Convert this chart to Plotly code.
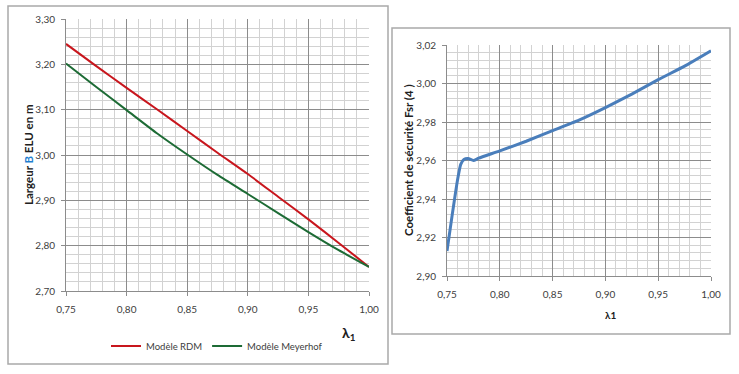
import plotly.graph_objects as go

# ---- Data ----
lam_left = [0.75, 0.775, 0.80, 0.825, 0.85, 0.875, 0.90, 0.925, 0.95, 0.975, 1.00]
b_rdm = [3.245, 3.196, 3.148, 3.101, 3.053, 3.005, 2.958, 2.908, 2.858, 2.806, 2.753]
b_meyerhof = [3.202, 3.150, 3.099, 3.048, 3.001, 2.956, 2.914, 2.872, 2.830, 2.790, 2.753]

lam_right = [0.75, 0.755, 0.76, 0.763, 0.766, 0.77, 0.775, 0.78, 0.80, 0.825, 0.85,
             0.875, 0.90, 0.925, 0.95, 0.975, 1.00]
fsr = [2.913, 2.932, 2.950, 2.958, 2.9605, 2.961, 2.960, 2.9612, 2.965, 2.970, 2.9755,
       2.981, 2.9875, 2.9945, 3.002, 3.009, 3.017]

x_ticks = [0.75, 0.80, 0.85, 0.90, 0.95, 1.00]

W, H = 739, 374
def px(x):
    return x / W
def py(y):
    return 1 - y / H

FONT = "Lato"
TICKCOL = "#404040"
MAJOR = "#8c8c8c"
MINOR = "#d2d2d2"

fig = go.Figure()
fig.add_trace(go.Scatter(x=lam_left, y=b_rdm, mode="lines", name="Modèle RDM",
                         line=dict(color="#c8161d", width=2, shape="spline", smoothing=0.6),
                         xaxis="x", yaxis="y"))
fig.add_trace(go.Scatter(x=lam_left, y=b_meyerhof, mode="lines", name="Modèle Meyerhof",
                         line=dict(color="#1d6b35", width=2, shape="spline", smoothing=0.6),
                         xaxis="x", yaxis="y"))
fig.add_trace(go.Scatter(x=lam_right, y=fsr, mode="lines", name="Fsr", showlegend=False,
                         line=dict(color="#4a7ebb", width=3, shape="spline", smoothing=0.5),
                         xaxis="x2", yaxis="y2"))

def xaxis(domain, anchor):
    return dict(domain=domain, anchor=anchor, range=[0.75, 1.0], tickvals=x_ticks,
                tickformat=".2f", showgrid=True, gridcolor=MAJOR, gridwidth=1, automargin=False,
                minor=dict(dtick=0.01, tick0=0.75, showgrid=True, gridcolor=MINOR, gridwidth=1),
                showline=True, linecolor=MAJOR, ticks="outside", ticklen=4, tickcolor=MAJOR,
                tickfont=dict(family=FONT, size=10, color=TICKCOL), zeroline=False, ticklabelstandoff=5)

def yaxis(domain, anchor, rng, dtick, mdtick):
    return dict(domain=domain, anchor=anchor, range=rng, dtick=dtick, tick0=rng[0],
                tickformat=".2f", showgrid=True, gridcolor=MAJOR, gridwidth=1, automargin=False,
                minor=dict(dtick=mdtick, tick0=rng[0], showgrid=True, gridcolor=MINOR, gridwidth=1),
                showline=True, linecolor=MAJOR, ticks="outside", ticklen=4, tickcolor=MAJOR,
                tickfont=dict(family=FONT, size=10, color=TICKCOL), zeroline=False, ticklabelstandoff=4)

fig.update_layout(
    width=W, height=H, margin=dict(l=0, r=0, t=0, b=0, autoexpand=False),
    paper_bgcolor="white", plot_bgcolor="white",
    separators=", ",
    xaxis=xaxis([px(66), px(369)], "y"),
    yaxis=yaxis([py(291), py(19)], "x", [2.70, 3.30], 0.1, 0.02),
    xaxis2=xaxis([px(447), px(711)], "y2"),
    yaxis2=yaxis([py(276), py(45)], "x2", [2.90, 3.02], 0.02, 0.004),
    legend=dict(orientation="h", x=px(106), y=py(346), xanchor="left", yanchor="middle",
                font=dict(family=FONT, size=9.5, color=TICKCOL), itemwidth=30,
                bgcolor="rgba(0,0,0,0)", tracegroupgap=0),
    showlegend=True,
)

# chart borders
fig.add_shape(type="rect", xref="paper", yref="paper", x0=px(8), x1=px(388), y0=py(364), y1=py(6),
              line=dict(color="#a9a9a9", width=1.5), layer="below")
fig.add_shape(type="rect", xref="paper", yref="paper", x0=px(392), x1=px(730), y0=py(334), y1=py(28),
              line=dict(color="#a9a9a9", width=1.5), layer="below")

# titles
fig.add_annotation(xref="paper", yref="paper", x=px(28), y=py(155), textangle=-90, showarrow=False,
                   xanchor="center", yanchor="middle",
                   text="<b>Largeur <span style='color:#1f7fd0'>B</span> ELU en m</b>",
                   font=dict(family=FONT, size=11.5, color="#202020"))
fig.add_annotation(xref="paper", yref="paper", x=px(349), y=py(333), showarrow=False,
                   xanchor="center", yanchor="middle",
                   text="<b>λ<sub>1</sub></b>", font=dict(family=FONT, size=14, color="#202020"))
fig.add_annotation(xref="paper", yref="paper", x=px(409), y=py(160), textangle=-90, showarrow=False,
                   xanchor="center", yanchor="middle",
                   text="<b>Coefficient de sécurité Fsr (4 )</b>",
                   font=dict(family=FONT, size=11.5, color="#202020"))
fig.add_annotation(xref="paper", yref="paper", x=px(610), y=py(315), showarrow=False,
                   xanchor="center", yanchor="middle",
                   text="<b>λ1</b>", font=dict(family=FONT, size=10, color="#202020"))

fig.write_html("out.html", post_script="document.body.style.margin='0';",
               config={"displayModeBar": False})
